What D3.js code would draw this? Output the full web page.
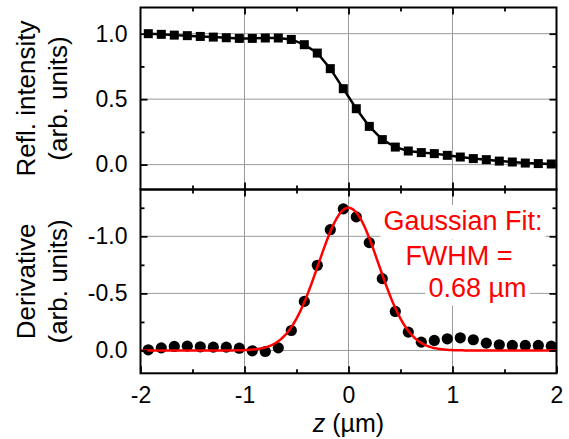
<!DOCTYPE html>
<html>
<head>
<meta charset="utf-8">
<script src="https://cdn.jsdelivr.net/npm/d3@7"></script>
<style>
  html, body { margin: 0; padding: 0; background: #fff; }
  svg { display: block; font-family: "Liberation Sans", Arial, sans-serif; }
</style>
</head>
<body>
<script>
// ---------------- data ----------------
const zValues = [-1.925,-1.8,-1.675,-1.55,-1.425,-1.3,-1.175,-1.05,-0.925,-0.8,-0.675,-0.55,-0.425,-0.3,-0.175,-0.05,
                 0.075,0.2,0.325,0.45,0.575,0.7,0.825,0.95,1.075,1.2,1.325,1.45,1.575,1.7,1.825,1.95];
const reflIntensity = [1.000,0.995,0.989,0.985,0.979,0.974,0.969,0.964,0.964,0.967,0.967,0.956,0.916,0.852,0.733,0.580,
                       0.427,0.292,0.191,0.134,0.104,0.092,0.084,0.071,0.058,0.046,0.038,0.027,0.020,0.012,0.008,0.005];
const derivative = [-0.006,-0.023,-0.035,-0.038,-0.032,-0.029,-0.029,-0.020,0.003,0.009,-0.023,-0.175,-0.43,-0.746,-1.058,-1.24,
                    -1.17,-0.945,-0.629,-0.342,-0.161,-0.073,-0.088,-0.102,-0.111,-0.094,-0.064,-0.05,-0.044,-0.044,-0.044,-0.038];
// Gaussian fit parameters
const fitAmplitude = -1.25;
const fitCenter = 0.0;
const fitFWHM = 0.68;

const xTicks = [-2,-1,0,1,2];
const xTickLabels = ["-2","-1","0","1","2"];
const xMinorTicks = [-1.5,-0.5,0.5,1.5];
const topYTicks = [0,0.5,1.0];
const topYTickLabels = ["0.0","0.5","1.0"];
const topYMinor = [0.25,0.75];
const botYTicks = [-1.0,-0.5,0.0];
const botYTickLabels = ["-1.0","-0.5","0.0"];
const botYMinor = [-1.25,-0.75,-0.25];
const fitText = ["Gaussian Fit:", "FWHM =", "0.68 \u00b5m"];

// ---------------- layout ----------------
const W = 569, H = 439;
const L = 140.5, R = 556.5, T = 7.5, MID = 189.5, B = 373.3;

const svg = d3.select("body").append("svg").attr("width", W).attr("height", H);

const x = d3.scaleLinear().domain([-2, 2]).range([L, R]);
const yTop = d3.scaleLinear().domain([-0.19, 1.2]).range([MID, T]);
const yBot = d3.scaleLinear().domain([-1.41, 0.2]).range([MID, B]);

const gridColor = "#9a9a9a";

// ---- grid ----
function grid(yScale, yTicks, y0, y1) {
  const g = svg.append("g").attr("stroke", gridColor).attr("stroke-width", 1);
  g.selectAll(".vx").data([-1,0,1]).enter().append("line")
    .attr("x1", d => x(d)).attr("x2", d => x(d)).attr("y1", y0).attr("y2", y1);
  g.selectAll(".hy").data(yTicks).enter().append("line")
    .attr("x1", L).attr("x2", R).attr("y1", d => yScale(d)).attr("y2", d => yScale(d));
}
grid(yTop, topYTicks, T, MID);
grid(yBot, botYTicks, MID, B);

// ---- fit text backgrounds & text (bg first) ----
const fitLines = [
  {t: fitText[0], cx: 463, by: 230},
  {t: fitText[1], cx: 459, by: 264.5},
  {t: fitText[2], cx: 477.5, by: 296.5}
];
const bgG = svg.append("g");
const txtSel = [];
fitLines.forEach(l => {
  const t = svg.append("text").attr("x", l.cx).attr("y", l.by)
    .attr("text-anchor", "middle").attr("font-size", 27).attr("fill", "#ff0000").text(l.t);
  txtSel.push(t);
});
fitLines.forEach((l, i) => {
  const bb = txtSel[i].node().getBBox();
  bgG.append("rect").attr("x", bb.x - 3).attr("y", l.by - 25)
    .attr("width", bb.width + 6).attr("height", 34).attr("fill", "#fff");
});

// ---- top data ----
const topPts = zValues.map((z, i) => [z, reflIntensity[i]]);
svg.append("path").datum(topPts)
  .attr("fill", "none").attr("stroke", "#000").attr("stroke-width", 2.5)
  .attr("d", d3.line().x(d => x(d[0])).y(d => yTop(d[1])));
const sq = 9;
svg.append("g").selectAll("rect").data(topPts).enter().append("rect")
  .attr("x", d => x(d[0]) - sq/2).attr("y", d => yTop(d[1]) - sq/2)
  .attr("width", sq).attr("height", sq).attr("fill", "#000");

// ---- bottom data ----
const botPts = zValues.map((z, i) => [z, derivative[i]]);
svg.append("g").selectAll("circle").data(botPts).enter().append("circle")
  .attr("cx", d => x(d[0])).attr("cy", d => yBot(d[1])).attr("r", 5.6).attr("fill", "#000");

const sigma = fitFWHM / (2 * Math.sqrt(2 * Math.LN2));
const fitPts = d3.range(-2, 2.0001, 0.01).map(z => [z, fitAmplitude * Math.exp(-((z - fitCenter) ** 2) / (2 * sigma * sigma))]);
svg.append("path").datum(fitPts)
  .attr("fill", "none").attr("stroke", "#ff0000").attr("stroke-width", 2.5)
  .attr("d", d3.line().x(d => x(d[0])).y(d => yBot(d[1])));

// bring fit text to front
txtSel.forEach(t => t.raise());

// ---- axes / ticks ----
const tickW = 1.8, MAJ = 7, MIN = 4;
function addAxis(axis, tx, ty, labelSize) {
  const g = svg.append("g").attr("transform", `translate(${tx},${ty})`).call(axis);
  g.select(".domain").remove();
  g.selectAll(".tick line").attr("stroke", "#000").attr("stroke-width", tickW);
  g.selectAll(".tick text").attr("fill", "#000").attr("font-size", labelSize || 23)
    .attr("font-family", "Liberation Sans, Arial, sans-serif");
  return g;
}
const none = () => "";
// top panel
addAxis(d3.axisLeft(yTop).tickValues(topYTicks).tickSize(-MAJ).tickPadding(13)
  .tickFormat((d, i) => topYTickLabels[i]), L, 0);
addAxis(d3.axisLeft(yTop).tickValues(topYMinor).tickSize(-MIN).tickFormat(none), L, 0);
addAxis(d3.axisRight(yTop).tickValues(topYTicks).tickSize(-MAJ).tickFormat(none), R, 0);
addAxis(d3.axisRight(yTop).tickValues(topYMinor).tickSize(-MIN).tickFormat(none), R, 0);
addAxis(d3.axisTop(x).tickValues(xTicks.slice(1, -1)).tickSize(-MAJ).tickFormat(none), 0, T);
addAxis(d3.axisTop(x).tickValues(xMinorTicks).tickSize(-MIN).tickFormat(none), 0, T);
addAxis(d3.axisBottom(x).tickValues(xTicks.slice(1, -1)).tickSize(-MAJ).tickFormat(none), 0, MID);
addAxis(d3.axisBottom(x).tickValues(xMinorTicks).tickSize(-MIN).tickFormat(none), 0, MID);
// bottom panel
addAxis(d3.axisLeft(yBot).tickValues(botYTicks).tickSize(-MAJ).tickPadding(13)
  .tickFormat((d, i) => botYTickLabels[i]), L, 0);
addAxis(d3.axisLeft(yBot).tickValues(botYMinor).tickSize(-MIN).tickFormat(none), L, 0);
addAxis(d3.axisRight(yBot).tickValues(botYTicks).tickSize(-MAJ).tickFormat(none), R, 0);
addAxis(d3.axisRight(yBot).tickValues(botYMinor).tickSize(-MIN).tickFormat(none), R, 0);
addAxis(d3.axisTop(x).tickValues(xTicks.slice(1, -1)).tickSize(-MAJ).tickFormat(none), 0, MID);
addAxis(d3.axisTop(x).tickValues(xMinorTicks).tickSize(-MIN).tickFormat(none), 0, MID);
addAxis(d3.axisBottom(x).tickValues(xTicks).tickSize(-MAJ).tickPadding(13)
  .tickFormat((d, i) => xTickLabels[i]), 0, B);
addAxis(d3.axisBottom(x).tickValues(xMinorTicks).tickSize(-MIN).tickFormat(none), 0, B);

// frames
svg.append("rect").attr("x", L).attr("y", T).attr("width", R - L).attr("height", MID - T)
  .attr("fill", "none").attr("stroke", "#000").attr("stroke-width", 2);
svg.append("rect").attr("x", L).attr("y", MID).attr("width", R - L).attr("height", B - MID)
  .attr("fill", "none").attr("stroke", "#000").attr("stroke-width", 2);

// ---- axis titles ----
function yTitle(lines, cy) {
  const g = svg.append("g");
  g.append("text").attr("transform", `translate(35,${cy}) rotate(-90)`)
    .attr("text-anchor", "middle").attr("font-size", 26).attr("fill", "#000").text(lines[0]);
  g.append("text").attr("transform", `translate(66.5,${cy}) rotate(-90)`)
    .attr("text-anchor", "middle").attr("font-size", 26).attr("fill", "#000").text(lines[1]);
}
yTitle(["Refl. intensity", "(arb. units)"], (T + MID) / 2);
yTitle(["Derivative", "(arb. units)"], (MID + B) / 2);

const xt = svg.append("text").attr("x", x(0)).attr("y", 431.5).attr("text-anchor", "middle")
  .attr("font-size", 25).attr("fill", "#000");
xt.append("tspan").attr("font-style", "italic").text("z");
xt.append("tspan").text(" (\u00b5m)");
</script>
</body>
</html>
